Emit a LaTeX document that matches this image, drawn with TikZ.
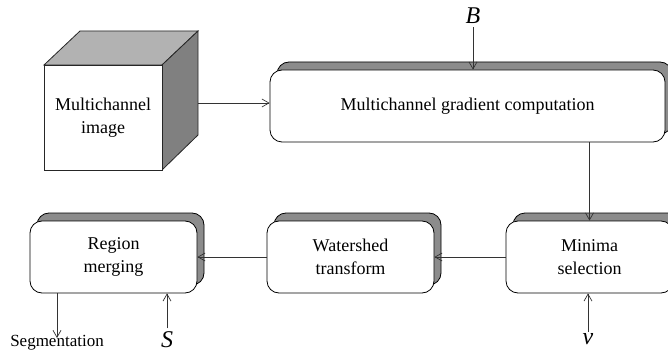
\documentclass[tikz,border=0pt]{standalone}
\usepackage{fontspec}
\setmainfont{Liberation Serif}
\usetikzlibrary{arrows.meta,shadows}
\tikzset{
  box/.style={draw=black, line width=0.8pt, rounded corners=12pt, fill=white,
    minimum width=167pt, minimum height=72pt, align=center, font=\fontsize{18}{23}\selectfont,
    copy shadow={shadow xshift=7pt, shadow yshift=8pt, fill=black!45, draw=black, line width=0.8pt}},
  conn/.style={draw=black!80, line width=0.7pt, -{Straight Barb[length=7pt,width=8pt]}},
  sym/.style={font=\fontsize{24}{26}\selectfont\itshape},
  lbl/.style={font=\fontsize{17}{19}\selectfont}
}
\begin{document}
\begin{tikzpicture}[x=1pt,y=-1pt]
\clip (0,0) rectangle (668,355);
\fill[white] (0,0) rectangle (668,355);
% cube
\filldraw[fill=black!30, draw=black!85, line width=0.8pt] (44,65) -- (80,31) -- (198,31) -- (162,65) -- cycle;
\filldraw[fill=black!50, draw=black!85, line width=0.8pt] (162,65) -- (198,31) -- (198,135) -- (162,170) -- cycle;
\node[draw=black!85, line width=0.8pt, fill=white, minimum width=118pt, minimum height=105pt, align=center,
  font=\fontsize{18}{23}\selectfont, inner sep=0pt] (img) at (103,117.5) {Multichannel\\image};
\coordinate (cubeR) at (198,103);
% boxes
\node[box, minimum width=395pt] (grad) at (467.5,106) {Multichannel gradient computation};
\node[box] (mini) at (589.5,257) {Minima\\selection};
\node[box] (water) at (350.5,257) {Watershed\\transform};
\node[box] (region) at (113.5,257) {Region\\merging};
% labels
\node[sym] (B) at (473,16) {B};
\node[sym] (S) at (167,340) {S};
\node[sym] (v) at (588,339) {v};
\node[lbl] (seg) at (57,343) {Segmentation};
% connectors
\draw[conn] (cubeR) -- (cubeR -| grad.west);
\draw[conn] (B.south) -- (B.south |- grad.north);
\draw[conn] (grad.south -| mini.north) -- (mini.north);
\draw[conn] (mini.west) -- (water.east);
\draw[conn] (water.west) -- (region.east);
\draw[conn] (region.south -| seg.north) -- ([yshift=-6pt]seg.north);
\draw[conn] (S.north) -- (S.north |- region.south);
\draw[conn] ([yshift=-2pt]v.north) -- (v.north |- mini.south);
\end{tikzpicture}
\end{document}
